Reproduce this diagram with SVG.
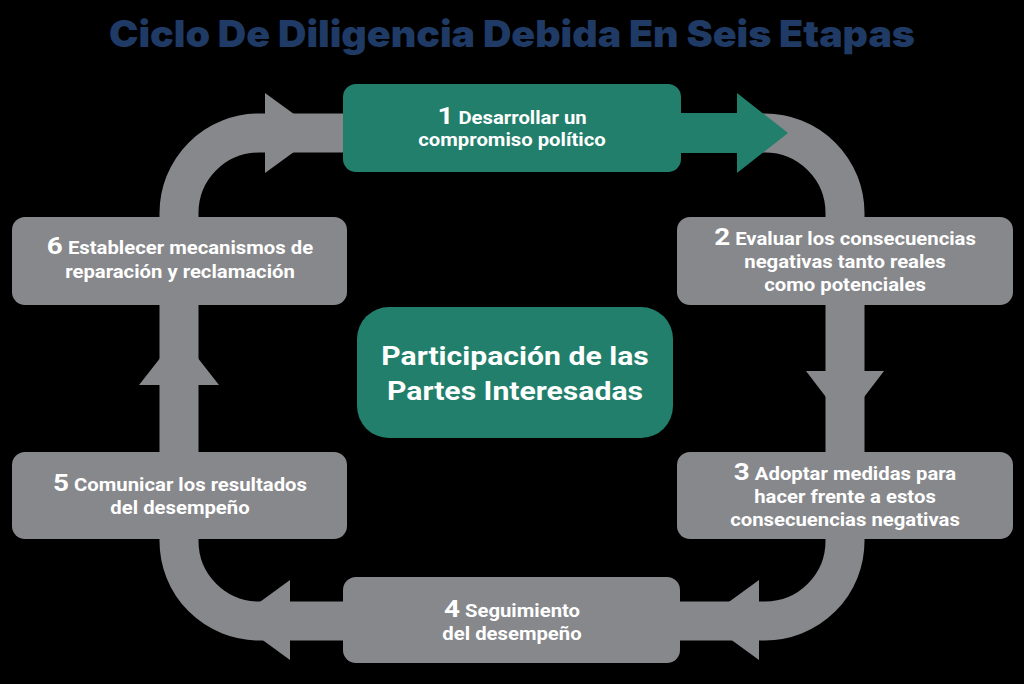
<svg xmlns="http://www.w3.org/2000/svg" width="1024" height="684" viewBox="0 0 1024 684">
<style>
.bg{fill:#000}
.grey{fill:#87888b}
.green{fill:#217f6b}
.loop{fill:none;stroke:#87888b;stroke-width:39}
.t{font-family:Roboto,"Liberation Sans",sans-serif;font-weight:700;fill:#ffffff;font-size:17.5px;text-anchor:middle}
.n{font-size:24px}
.c{font-size:26px}
.title{font-family:Inter,"Liberation Sans",sans-serif;font-weight:900;font-size:37px;fill:#1f3a64;text-anchor:middle}
</style>
<rect class="bg" width="1024" height="684"/>
<text class="title" x="512" y="47" textLength="806" lengthAdjust="spacingAndGlyphs">Ciclo De Diligencia Debida En Seis Etapas</text>

<g id="connectors">
  <path class="loop" d="M259,133 H765 A80,80 0 0 1 845,213 V541 A80,80 0 0 1 765,621 H259 A80,80 0 0 1 179,541 V213 A80,80 0 0 1 259,133 Z"/>
  <polygon class="grey" points="265,93 265,173 320,133"/>
  <polygon class="grey" points="806,371 884,371 845,422"/>
  <polygon class="grey" points="759,580 759,660 704,620"/>
  <polygon class="grey" points="290,580 290,660 235,620"/>
  <polygon class="grey" points="139,385 219,385 179,334"/>
  <rect class="green" x="675" y="113" width="65" height="40"/>
  <polygon class="green" points="737,93 737,173 788,133"/>
</g>

<g id="step1">
  <rect class="green" x="343" y="84" width="338" height="88" rx="13"/>
  <text class="t" transform="matrix(1.16 0 0 1 512 0)" y="124"><tspan class="n">1</tspan> Desarrollar un<tspan x="0" y="146">compromiso político</tspan></text>
</g>
<g id="step2">
  <rect class="grey" x="677" y="217" width="336" height="88" rx="13"/>
  <text class="t" transform="matrix(1.16 0 0 1 845 0)" y="245"><tspan class="n">2</tspan> Evaluar los consecuencias<tspan x="0" y="268">negativas tanto reales</tspan><tspan x="0" y="291">como potenciales</tspan></text>
</g>
<g id="step3">
  <rect class="grey" x="677" y="452" width="336" height="87" rx="13"/>
  <text class="t" transform="matrix(1.16 0 0 1 845 0)" y="480"><tspan class="n">3</tspan> Adoptar medidas para<tspan x="0" y="503">hacer frente a estos</tspan><tspan x="0" y="526">consecuencias negativas</tspan></text>
</g>
<g id="step4">
  <rect class="grey" x="343" y="577" width="337" height="86" rx="13"/>
  <text class="t" transform="matrix(1.16 0 0 1 512 0)" y="617"><tspan class="n">4</tspan> Seguimiento<tspan x="0" y="640">del desempeño</tspan></text>
</g>
<g id="step5">
  <rect class="grey" x="12" y="452" width="335" height="87" rx="13"/>
  <text class="t" transform="matrix(1.16 0 0 1 180 0)" y="491"><tspan class="n">5</tspan> Comunicar los resultados<tspan x="0" y="514">del desempeño</tspan></text>
</g>
<g id="step6">
  <rect class="grey" x="12" y="217" width="335" height="88" rx="13"/>
  <text class="t" transform="matrix(1.16 0 0 1 180 0)" y="254"><tspan class="n">6</tspan> Establecer mecanismos de<tspan x="0" y="278">reparación y reclamación</tspan></text>
</g>
<g id="center">
  <rect class="green" x="357" y="307" width="316" height="131" rx="32"/>
  <text class="t c" transform="matrix(1.16 0 0 1 515 0)" y="365">Participación de las<tspan x="0" y="400">Partes Interesadas</tspan></text>
</g>
</svg>
